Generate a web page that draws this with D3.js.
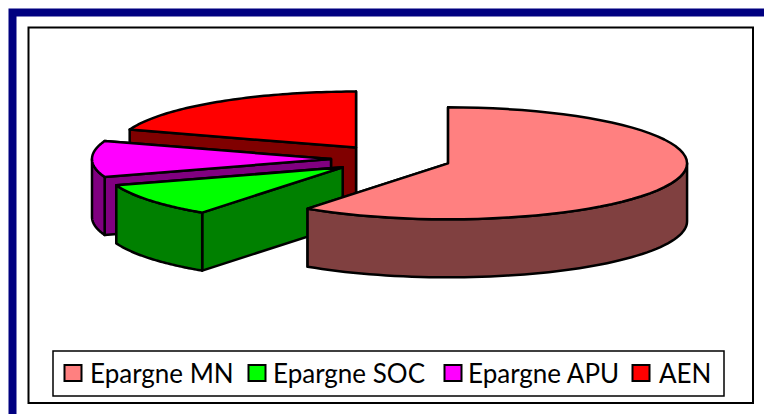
<!DOCTYPE html>
<html>
<head>
<meta charset="utf-8">
<script src="https://cdn.jsdelivr.net/npm/d3@7"></script>
<style>
html, body { margin: 0; padding: 0; background: #fff; overflow: hidden; }
</style>
</head>
<body>
<div id="chart"></div>
<script>
const categories = ['Epargne MN', 'Epargne SOC', 'Epargne APU', 'AEN'];
const shares = [60, 9.8, 10.4, 19.8];
const topColors = ['#FF8080', '#00FF00', '#FF00FF', '#FF0000'];
const wallColors = ['#804040', '#008000', '#800080', '#800000'];

const width = 764, height = 414;
const cx = 391, cy = 159, rx = 239, ry = 56, depth = 58, explode = 60;

const svg = d3.select('#chart').append('svg')
    .attr('width', width)
    .attr('height', height)
    .style('display', 'block');

// frame
svg.append('path')
    .attr('d', 'M12.5,414V12.5H764')
    .attr('fill', 'none')
    .attr('stroke', '#000080')
    .attr('stroke-width', 8);
svg.append('rect')
    .attr('x', 28.5).attr('y', 27.5)
    .attr('width', 724.5).attr('height', 375.5)
    .attr('fill', '#fff')
    .attr('stroke', '#000')
    .attr('stroke-width', 2);

const slices = d3.pie().sort(null)(shares);

// angle is clockwise from the top, on the flattened disc
const rim = (c, a) => [c[0] + rx * Math.sin(a), c[1] - ry * Math.cos(a)];
const down = p => [p[0], p[1] + depth];
const line = d3.line();

function arcPoints(c, a0, a1) {
    return d3.range(0, 61).map(i => rim(c, a0 + (a1 - a0) * i / 60));
}

const pieG = svg.append('g')
    .attr('stroke', '#000')
    .attr('stroke-width', 2.5)
    .attr('stroke-linejoin', 'round');

// back slices first so that the nearer ones overlap them
[3, 2, 1, 0].forEach(i => {
    const s = slices[i];
    const mid = (s.startAngle + s.endAngle) / 2;
    const c = [cx + explode * Math.sin(mid), cy - explode * (ry / rx) * Math.cos(mid)];
    const g = pieG.append('g').attr('class', 'slice');

    const faces = [s.startAngle, s.endAngle]
        .map(a => rim(c, a))
        .sort((p, q) => p[1] - q[1]);
    faces.forEach(p => {
        g.append('path')
            .attr('d', line([c, p, down(p), down(c)]) + 'Z')
            .attr('fill', wallColors[i]);
    });

    const a0 = Math.max(s.startAngle, Math.PI / 2);
    const a1 = Math.min(s.endAngle, Math.PI * 1.5);
    if (a1 > a0) {
        const front = arcPoints(c, a0, a1);
        g.append('path')
            .attr('d', line(front.concat(front.map(down).reverse())) + 'Z')
            .attr('fill', wallColors[i]);
    }

    g.append('path')
        .attr('d', line([c].concat(arcPoints(c, s.startAngle, s.endAngle))) + 'Z')
        .attr('fill', topColors[i]);
});

// legend
svg.append('rect')
    .attr('x', 53).attr('y', 351)
    .attr('width', 671).attr('height', 45)
    .attr('fill', '#fff')
    .attr('stroke', '#000')
    .attr('stroke-width', 1.5);

const swatchX = [64.5, 248.5, 444.5, 632.5];
const labelX = [90, 273, 468, 659];
const legend = svg.selectAll('.legend-item').data(categories).enter().append('g')
    .attr('class', 'legend-item');
legend.append('rect')
    .attr('x', (d, i) => swatchX[i])
    .attr('y', 365)
    .attr('width', 17).attr('height', 16)
    .attr('fill', (d, i) => topColors[i])
    .attr('stroke', '#000')
    .attr('stroke-width', 2);
legend.append('text')
    .attr('x', (d, i) => labelX[i])
    .attr('y', 383)
    .attr('font-family', 'Lato, "Open Sans", sans-serif')
    .attr('font-size', 26)
    .attr('fill', '#000')
    .text(d => d);
</script>
</body>
</html>
